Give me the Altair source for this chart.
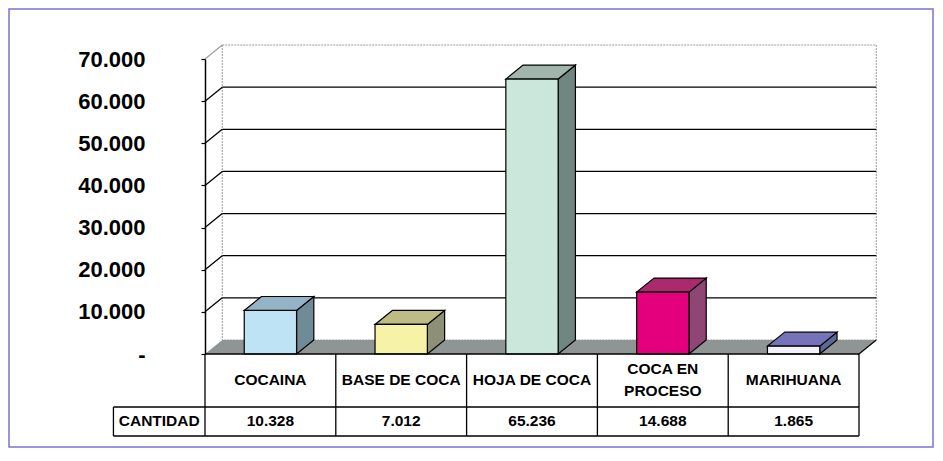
import altair as alt
import pandas as pd

# ---------------- data ----------------
CATEGORIES = ["COCAINA", "BASE DE COCA", "HOJA DE COCA", "COCA EN PROCESO", "MARIHUANA"]
HEADER_LABELS = ["COCAINA", "BASE DE COCA", "HOJA DE COCA", "COCA EN\nPROCESO", "MARIHUANA"]
VALUES = [10328, 7012, 65236, 14688, 1865]
ROW_LABEL = "CANTIDAD"
Y_TICKS = [0, 10000, 20000, 30000, 40000, 50000, 60000, 70000]

FRONT_COLORS = ["#BEE3F4", "#F6F2A6", "#CBE6DA", "#E4007C", "#F3F1FA"]
TOP_COLORS = ["#93B4C6", "#BDBC85", "#A1B5AD", "#AB2A6E", "#7673BA"]
SIDE_COLORS = ["#6F8B98", "#8D9074", "#708680", "#8E4674", "#5E6894"]

# ---------------- layout / style constants ----------------
PLOT_W, PLOT_H = 654, 295
X_MIN, X_MAX = -0.5, len(CATEGORIES) - 0.5
Y_MAX = 70000
BW = 0.40          # bar width (category units)
DX = 0.132         # 3D depth, x (category units)
DY = 3320          # 3D depth, y (value units)
LABEL_COL_LEFT = -1.2
FONT = "Liberation Sans"

xs = alt.Scale(domain=[X_MIN, X_MAX], nice=False, zero=False)
ys = alt.Scale(domain=[0, Y_MAX], nice=False, zero=True)

y_axis = alt.Axis(
    values=Y_TICKS,
    labelExpr="datum.value == 0 ? '-' : replace(format(datum.value, ','), ',', '.')",
    labelFont=FONT, labelFontSize=22, labelFontWeight="bold", labelColor="black",
    tickSize=4, tickColor="black", tickWidth=1.2,
    domainColor="black", domainWidth=1.5, labelPadding=56,
    grid=False, title=None, zindex=1,
)


def YQ(field, **kw):
    return alt.Y(field, scale=ys, axis=y_axis, title=None, **kw)


def XQ(field, **kw):
    return alt.X(field, scale=xs, axis=None, **kw)


def fmt(v):
    return f"{v:,}".replace(",", ".")


bars = pd.DataFrame({
    "cat": CATEGORIES,
    "i": list(range(len(CATEGORIES))),
    "v": VALUES,
    "front": FRONT_COLORS,
    "label": HEADER_LABELS,
    "vlabel": [fmt(v) for v in VALUES],
})
bars["xl"] = bars["i"] - BW / 2
bars["xr"] = bars["i"] + BW / 2
bars["y0"] = 0

side_rows, top_rows = [], []
for i, (c, v) in enumerate(zip(CATEGORIES, VALUES)):
    side_rows.append({"cat": c, "x": i + BW / 2, "yt": v, "yb": 0, "color": SIDE_COLORS[i]})
    side_rows.append({"cat": c, "x": i + BW / 2 + DX, "yt": v + DY, "yb": DY, "color": SIDE_COLORS[i]})
    top_rows.append({"cat": c, "y": v, "xl": i - BW / 2, "xr": i + BW / 2, "color": TOP_COLORS[i]})
    top_rows.append({"cat": c, "y": v + DY, "xl": i - BW / 2 + DX, "xr": i + BW / 2 + DX, "color": TOP_COLORS[i]})
side_df = pd.DataFrame(side_rows)
top_df = pd.DataFrame(top_rows)

# ---------------- frame ----------------
frame = alt.Chart(pd.DataFrame({"a": [0]})).mark_rect(
    fillOpacity=0, stroke="#7A72D0", strokeWidth=1.5
).encode(x=alt.value(-196), x2=alt.value(728), y=alt.value(-50), y2=alt.value(388))

# ---------------- back wall (carries the y axis) ----------------
wall_df = pd.DataFrame({"x1": [X_MIN + DX], "x2": [X_MAX + DX], "y1": [DY], "y2": [Y_MAX + DY]})
wall = alt.Chart(wall_df).mark_rect(
    fill="white", stroke="#9A9A9A", strokeWidth=1, strokeDash=[2, 1]
).encode(x=XQ("x1:Q"), x2="x2:Q", y=YQ("y1:Q"), y2="y2:Q")

# gridlines on back wall
grid_df = pd.DataFrame({"v": Y_TICKS[1:-1]})
grid_df["yb"] = grid_df["v"] + DY
grid_df["x1"] = X_MIN + DX
grid_df["x2"] = X_MAX + DX
grid = alt.Chart(grid_df).mark_rule(color="black", strokeWidth=1.3).encode(
    x=XQ("x1:Q"), x2="x2:Q", y=YQ("yb:Q"),
)

# left wall diagonals
diag_df = pd.DataFrame({"v": Y_TICKS[1:]})
diag_df["yb"] = diag_df["v"] + DY
diag_df["x1"] = X_MIN
diag_df["x2"] = X_MIN + DX
diag_df["col"] = ["black"] * (len(Y_TICKS) - 2) + ["#A0A0A0"]
diag = alt.Chart(diag_df).mark_rule(strokeWidth=1.3).encode(
    x=XQ("x1:Q"), x2="x2:Q", y=YQ("v:Q"), y2="yb:Q",
    color=alt.Color("col:N", scale=None),
)

# floor
floor_df = pd.DataFrame({"y": [0, DY], "xl": [X_MIN, X_MIN + DX], "xr": [X_MAX, X_MAX + DX]})
floor = alt.Chart(floor_df).mark_area(orient="horizontal", color="#8F9595").encode(
    y=YQ("y:Q"), x=XQ("xl:Q", stack=None), x2="xr:Q",
)
floor_edge = alt.Chart(pd.DataFrame({"x1": [X_MAX], "x2": [X_MAX + DX], "y1": [0], "y2": [DY]})).mark_rule(
    color="black", strokeWidth=1.2
).encode(x=XQ("x1:Q"), x2="x2:Q", y=YQ("y1:Q"), y2="y2:Q")

# bars: side, top, front
sides = alt.Chart(side_df).mark_area(stroke="black", strokeWidth=1.2).encode(
    x=XQ("x:Q"), y=YQ("yt:Q", stack=None), y2="yb:Q",
    fill=alt.Fill("color:N", scale=None), detail="cat:N",
)
tops = alt.Chart(top_df).mark_area(orient="horizontal", stroke="black", strokeWidth=1.2).encode(
    y=YQ("y:Q"), x=XQ("xl:Q", stack=None), x2="xr:Q",
    fill=alt.Fill("color:N", scale=None), detail="cat:N",
)
fronts = alt.Chart(bars).mark_rect(stroke="black", strokeWidth=1.2).encode(
    x=XQ("xl:Q"), x2="xr:Q", y=YQ("v:Q"), y2="y0:Q",
    fill=alt.Fill("front:N", scale=None),
)

# ---------------- data table ----------------
Y_TOP, Y_MID, Y_BOT = PLOT_H, PLOT_H + 53, PLOT_H + 82
vlines = pd.DataFrame({"x": [X_MIN + k for k in range(len(CATEGORIES) + 1)]})
table_v = alt.Chart(vlines).mark_rule(color="black", strokeWidth=1.3).encode(
    x=XQ("x:Q"), y=alt.value(Y_TOP), y2=alt.value(Y_BOT),
)
hl_df = pd.DataFrame({"x1": [X_MIN, LABEL_COL_LEFT, LABEL_COL_LEFT], "x2": [X_MAX] * 3})
table_top = alt.Chart(hl_df.iloc[[0]]).mark_rule(color="black", strokeWidth=1.3).encode(
    x=XQ("x1:Q"), x2="x2:Q", y=alt.value(Y_TOP))
table_mid = alt.Chart(hl_df.iloc[[1]]).mark_rule(color="black", strokeWidth=1.3).encode(
    x=XQ("x1:Q"), x2="x2:Q", y=alt.value(Y_MID))
table_bot = alt.Chart(hl_df.iloc[[2]]).mark_rule(color="black", strokeWidth=1.3).encode(
    x=XQ("x1:Q"), x2="x2:Q", y=alt.value(Y_BOT))
table_left = alt.Chart(pd.DataFrame({"x": [LABEL_COL_LEFT]})).mark_rule(color="black", strokeWidth=1.3).encode(
    x=XQ("x:Q"), y=alt.value(Y_MID), y2=alt.value(Y_BOT))

text_style = dict(font=FONT, fontSize=15.5, fontWeight="bold", color="black",
                  baseline="middle", align="center")
header_single = alt.Chart(bars).transform_filter(
    "indexof(datum.label, '\\n') < 0"
).mark_text(**text_style).encode(
    x=XQ("i:Q"), y=alt.value(PLOT_H + 26), text="label:N")
header_multi = alt.Chart(bars).transform_filter(
    "indexof(datum.label, '\\n') >= 0"
).mark_text(lineBreak="\n", lineHeight=22, dy=-11, **text_style).encode(
    x=XQ("i:Q"), y=alt.value(PLOT_H + 26), text="label:N")
value_text = alt.Chart(bars).mark_text(**text_style).encode(
    x=XQ("i:Q"), y=alt.value(PLOT_H + 67), text="vlabel:N")
row_label = alt.Chart(pd.DataFrame({"x": [(LABEL_COL_LEFT + X_MIN) / 2], "t": [ROW_LABEL]})).mark_text(
    **text_style).encode(x=XQ("x:Q"), y=alt.value(PLOT_H + 67), text="t:N")

chart = alt.layer(
    frame, wall, grid, diag, floor, floor_edge, sides, tops, fronts,
    table_v, table_top, table_mid, table_bot, table_left,
    header_single, header_multi, value_text, row_label,
).properties(
    width=PLOT_W, height=PLOT_H,
    padding={"left": 197, "top": 51, "right": 75, "bottom": 94},
    autosize=alt.AutoSizeParams(type="none"),
).configure_view(stroke=None)

chart.save("out.html", embed_options={"renderer": "svg", "actions": False})
